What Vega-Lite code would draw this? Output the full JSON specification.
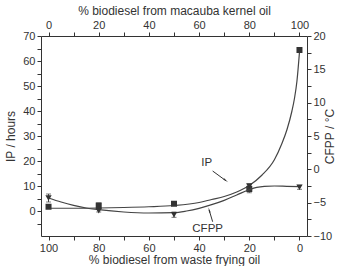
{
  "$schema": "https://vega.github.io/schema/vega-lite/v6.json",
  "width": 266,
  "height": 200,
  "autosize": {"type": "none"},
  "padding": {"left": 41, "top": 36, "right": 35, "bottom": 30},
  "datasets": {
    "pts": [
      {"w": 100, "ip": 1.7, "ipErr": 0.4, "cfpp": -4.3, "cfErr": 0.6},
      {"w": 80, "ip": 2.2, "ipErr": 1.0, "cfpp": -6.2, "cfErr": 0.2},
      {"w": 50, "ip": 2.9, "ipErr": 0.6, "cfpp": -6.8, "cfErr": 0.4},
      {"w": 20, "ip": 8.8, "ipErr": 1.5, "cfpp": -2.5, "cfErr": 0.3},
      {"w": 0, "ip": 64.4, "ipErr": 0.5, "cfpp": -2.7, "cfErr": 0.3}
    ],
    "ipCurve": [
      {"w": 100, "ip": 1.1}, {"w": 90, "ip": 1.1}, {"w": 80, "ip": 1.2}, {"w": 70, "ip": 1.4},
      {"w": 60, "ip": 1.7}, {"w": 50, "ip": 2.2}, {"w": 40, "ip": 3.4}, {"w": 35, "ip": 4.6},
      {"w": 30, "ip": 5.8}, {"w": 25, "ip": 7.6}, {"w": 20, "ip": 10.2}, {"w": 15, "ip": 14.3},
      {"w": 10, "ip": 20.5}, {"w": 7, "ip": 27}, {"w": 5, "ip": 32.5}, {"w": 3, "ip": 40},
      {"w": 2, "ip": 45}, {"w": 1, "ip": 52}, {"w": 0, "ip": 63.5}
    ],
    "cfCurve": [
      {"w": 100, "cfpp": -4.3}, {"w": 95, "cfpp": -4.9}, {"w": 90, "cfpp": -5.4}, {"w": 85, "cfpp": -5.8},
      {"w": 80, "cfpp": -6.05}, {"w": 70, "cfpp": -6.4}, {"w": 60, "cfpp": -6.55}, {"w": 50, "cfpp": -6.5},
      {"w": 45, "cfpp": -6.25}, {"w": 40, "cfpp": -5.85}, {"w": 35, "cfpp": -5.3}, {"w": 30, "cfpp": -4.65},
      {"w": 25, "cfpp": -3.85}, {"w": 20, "cfpp": -3.05}, {"w": 17, "cfpp": -2.7}, {"w": 14, "cfpp": -2.55},
      {"w": 10, "cfpp": -2.5}, {"w": 5, "cfpp": -2.55}, {"w": 0, "cfpp": -2.6}
    ],
    "ipLabel": [{"w": 37, "ip": 19.1, "label": "IP"}],
    "ipArrow": [{"w": 34.6, "ip": 16.0, "w2": 29.3, "ip2": 12.1}],
    "ipHead": [{"w": 29.6, "ip": 12.4}],
    "cfLabel": [{"w": 36.6, "cfpp": -9.0, "label": "CFPP"}],
    "cfArrow": [{"w": 34.6, "cfpp": -7.86, "w2": 36, "c2": -6.1}],
    "cfHead": [{"w": 35.9, "cfpp": -6.2}]
  },
  "layer": [
    {
      "encoding": {
        "x": {"field": "w", "type": "quantitative",
          "scale": {"domain": [-3, 103], "reverse": true, "nice": false, "zero": false},
          "axis": {"orient": "bottom", "values": [0,10,20,30,40,50,60,70,80,90,100],
            "labelExpr": "datum.value % 20 === 0 ? datum.label : ''",
            "title": "% biodiesel from waste frying oil", "titlePadding": 1}},
        "y": {"field": "ip", "type": "quantitative",
          "scale": {"domain": [-10, 70], "nice": false, "zero": false},
          "axis": {"orient": "left", "values": [-5,0,5,10,15,20,25,30,35,40,45,50,55,60,65,70],
            "labelExpr": "datum.value % 10 === 0 && datum.value >= 0 ? datum.label : ''",
            "title": "IP / hours", "titlePadding": 5}}
      },
      "layer": [
        {
          "data": {"name": "ipCurve"},
          "mark": {"type": "line", "color": "#444", "strokeWidth": 1.2, "interpolate": "monotone"}
        },
        {
          "data": {"name": "pts"},
          "mark": {"type": "errorbar", "color": "#444", "ticks": {"size": 5}},
          "encoding": {"yError": {"field": "ipErr"}}
        },
        {
          "data": {"name": "pts"},
          "mark": {"type": "point", "shape": "square", "filled": true, "size": 36, "color": "#333", "opacity": 1}
        },
        {
          "data": {"name": "ipLabel"},
          "mark": {"type": "text", "font": "Liberation Sans", "fontSize": 11.5, "color": "#333"},
          "encoding": {"text": {"field": "label"}}
        },
        {
          "data": {"name": "ipArrow"},
          "mark": {"type": "rule", "color": "#333", "strokeWidth": 1},
          "encoding": {"x2": {"field": "w2"}, "y2": {"field": "ip2"}}
        },
        {
          "data": {"name": "ipHead"},
          "mark": {"type": "point", "shape": "wedge", "filled": true, "size": 40, "angle": 127, "color": "#333", "opacity": 1}
        }
      ]
    },
    {
      "encoding": {
        "x": {"field": "w", "type": "quantitative",
          "scale": {"domain": [-3, 103], "reverse": true, "nice": false, "zero": false},
          "axis": {"orient": "top", "values": [0,10,20,30,40,50,60,70,80,90,100],
            "labelExpr": "datum.value % 20 === 0 ? format(100 - datum.value, 'd') : ''",
            "title": "% biodiesel from macauba kernel oil", "titlePadding": 2}},
        "y": {"field": "cfpp", "type": "quantitative",
          "scale": {"domain": [-10, 20], "nice": false, "zero": false},
          "axis": {"orient": "right", "values": [-10,-7.5,-5,-2.5,0,2.5,5,7.5,10,12.5,15,17.5,20],
            "labelExpr": "datum.value % 5 === 0 ? datum.label : ''",
            "title": "CFPP / °C", "titleAngle": -90, "titlePadding": 5}}
      },
      "layer": [
        {
          "data": {"name": "cfCurve"},
          "mark": {"type": "line", "color": "#444", "strokeWidth": 1.2, "interpolate": "monotone"}
        },
        {
          "data": {"name": "pts"},
          "mark": {"type": "errorbar", "color": "#444", "ticks": {"size": 5}},
          "encoding": {"yError": {"field": "cfErr"}}
        },
        {
          "data": {"name": "pts"},
          "mark": {"type": "point", "shape": "triangle-down", "filled": true, "size": 40, "color": "#333", "opacity": 1}
        },
        {
          "data": {"name": "cfLabel"},
          "mark": {"type": "text", "font": "Liberation Sans", "fontSize": 11.5, "color": "#333"},
          "encoding": {"text": {"field": "label"}}
        },
        {
          "data": {"name": "cfArrow"},
          "mark": {"type": "rule", "color": "#333", "strokeWidth": 1},
          "encoding": {"x2": {"field": "w2"}, "y2": {"field": "c2"}}
        },
        {
          "data": {"name": "cfHead"},
          "mark": {"type": "point", "shape": "wedge", "filled": true, "size": 40, "angle": 344, "color": "#333", "opacity": 1}
        }
      ]
    }
  ],
  "resolve": {"scale": {"y": "independent"}, "axis": {"x": "independent", "y": "independent"}},
  "config": {
    "view": {"stroke": null},
    "axis": {
      "grid": false,
      "labelFont": "Liberation Sans", "labelFontSize": 11, "labelColor": "#333",
      "titleFont": "Liberation Sans", "titleFontSize": 12, "titleFontWeight": "normal", "titleColor": "#333",
      "domainColor": "#333", "tickColor": "#333", "domainWidth": 1, "tickWidth": 1,
      "tickSize": 4, "labelPadding": 2, "labelFlush": false, "labelOverlap": false
    }
  }
}
